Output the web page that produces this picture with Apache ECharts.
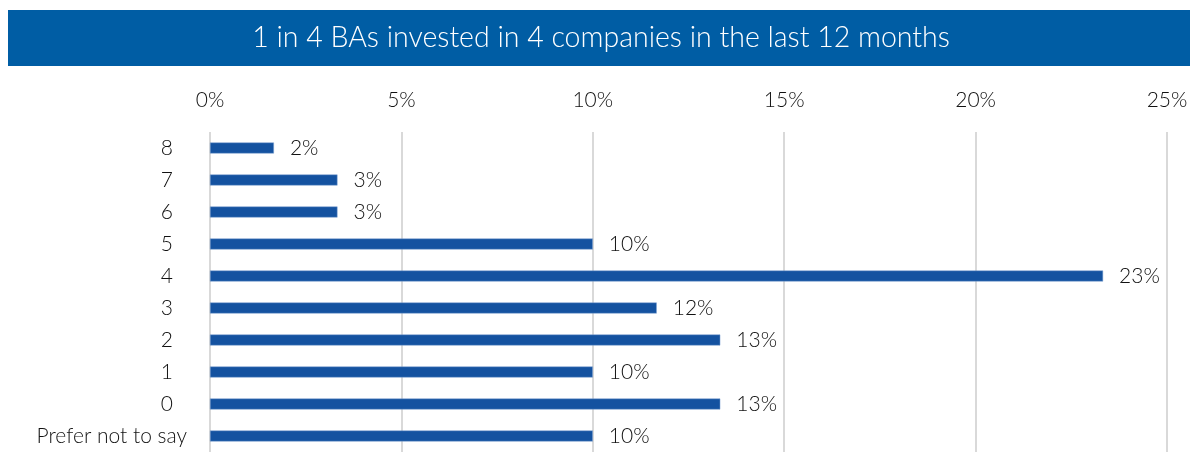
<!DOCTYPE html>
<html>
<head>
<meta charset="utf-8">
<script src="https://cdn.jsdelivr.net/npm/echarts@6/dist/echarts.min.js"></script>
<style>
  html, body { margin: 0; padding: 0; background: #fff; }
  #container { width: 1200px; height: 452px; }
</style>
</head>
<body>
<div id="container"></div>
<script>
const title = '1 in 4 BAs invested in 4 companies in the last 12 months';
// bottom to top, as ECharts draws a category y axis
const categories = ['Prefer not to say', '0', '1', '2', '3', '4', '5', '6', '7', '8'];
const shares = [10, 13.33, 10, 13.33, 11.67, 23.33, 10, 3.33, 3.33, 1.67];
const xTicks = [0, 5, 10, 15, 20, 25];

const font = 'Lato, "Open Sans", sans-serif';
const textStyle = { fontSize: 21, fontWeight: 300, fontFamily: font, color: '#111' };
const container = document.getElementById('container');
const chart = echarts.init(container, null, { renderer: 'canvas' });

chart.setOption({
    animation: false,
    graphic: [
        {
            type: 'rect',
            shape: { x: 8, y: 10, width: 1182, height: 56 },
            style: { fill: '#005da4' },
        },
        {
            type: 'text',
            x: 601,
            y: 38,
            style: {
                text: title,
                fill: '#fff',
                font: '300 28.5px ' + font,
                align: 'center',
                verticalAlign: 'middle',
            },
        },
    ],
    // the plot runs a little past the bottom edge of the picture
    grid: { left: 210, right: 33, top: 132, height: 322 },
    xAxis: {
        type: 'value',
        position: 'top',
        min: xTicks[0],
        max: xTicks[xTicks.length - 1],
        interval: 5,
        axisLine: { show: false },
        axisTick: { show: false },
        axisLabel: Object.assign({ formatter: '{value}%', margin: 21 }, textStyle),
        splitLine: { lineStyle: { color: '#d9d9d9', width: 2 } },
    },
    yAxis: {
        type: 'category',
        data: categories,
        axisLine: { show: false },
        axisTick: { show: false },
        axisLabel: Object.assign({
            margin: 23,
            // Excel shifts the long label right; the short ones sit further from the axis
            formatter: (v) => v.length > 2 ? '{l|' + v + '}' : '{s|' + v + '}',
            rich: {
                l: Object.assign({}, textStyle),
                s: Object.assign({ padding: [0, 14, 0, 0] }, textStyle),
            },
        }, textStyle),
    },
    series: [{
        type: 'bar',
        data: shares,
        barWidth: 11,
        itemStyle: { color: '#1452a0', borderColor: '#7fa3d1', borderWidth: 0.5 },
        label: Object.assign({
            show: true,
            position: 'right',
            distance: 16,
            formatter: (p) => Math.round(p.value) + '%',
        }, textStyle),
    }],
});
</script>
</body>
</html>
